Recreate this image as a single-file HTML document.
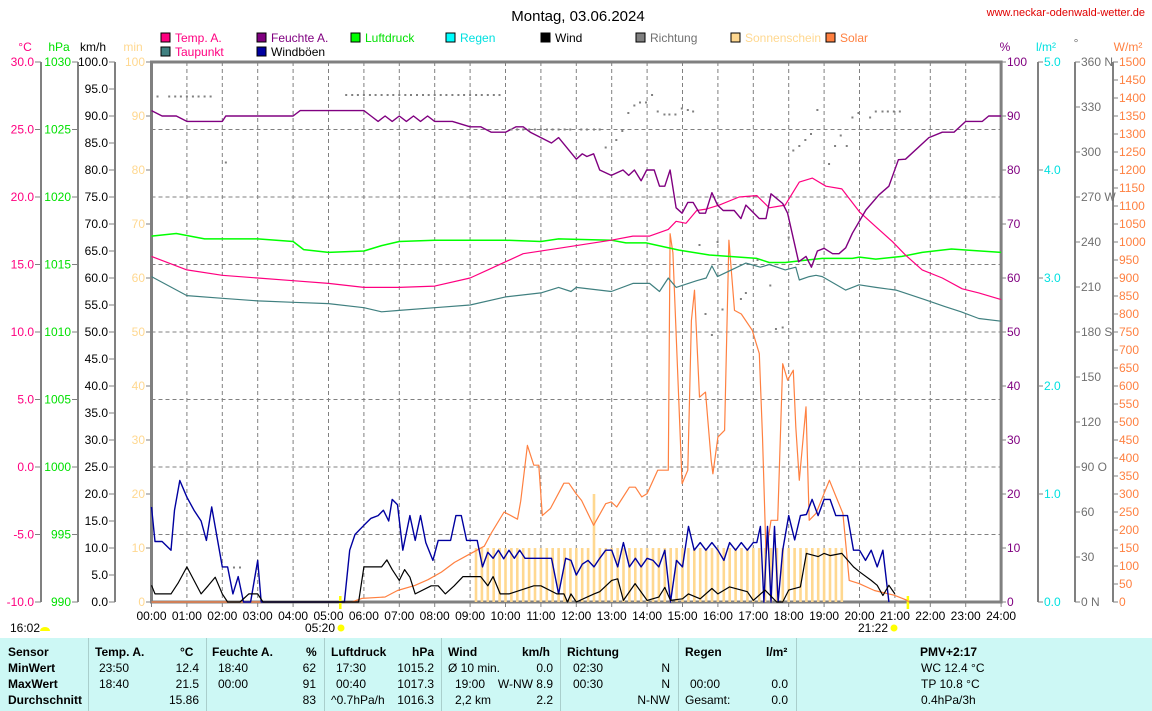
<!DOCTYPE html>
<html><head><meta charset="utf-8">
<style>
html,body{margin:0;padding:0;background:#fff;}
body{width:1152px;height:711px;overflow:hidden;position:relative;font-family:"Liberation Sans",sans-serif;}
svg text{font-family:"Liberation Sans",sans-serif;}
#tbl{position:absolute;left:0;top:638px;width:1152px;height:73px;background:#cdf8f5;font-size:12px;color:#000;}
#tbl div{position:absolute;white-space:nowrap;}
.sep{top:0;width:1px;height:73px;background:#a9cfcc;}
.b{font-weight:bold;}
</style></head>
<body>
<svg id="chart" width="1152" height="638" viewBox="0 0 1152 638" style="position:absolute;left:0;top:0">
<text x="578" y="21" font-size="15" text-anchor="middle" fill="#000">Montag, 03.06.2024</text>
<text x="1145" y="16" font-size="11" text-anchor="end" fill="#e00000">www.neckar-odenwald-wetter.de</text>
<g id="legend"></g>
<g id="grid"></g>
<g id="axes"></g>
<g id="marks"></g>
</svg>
<div id="tbl">
<div class="sep" style="left:88px"></div><div class="sep" style="left:206px"></div><div class="sep" style="left:324px"></div><div class="sep" style="left:441px"></div><div class="sep" style="left:560px"></div><div class="sep" style="left:678px"></div><div class="sep" style="left:796px"></div>
<div class="b" style="left:8px;top:7px">Sensor</div>
<div class="b" style="left:8px;top:23px">MinWert</div>
<div class="b" style="left:8px;top:39px">MaxWert</div>
<div class="b" style="left:8px;top:55px">Durchschnitt</div>
<div class="b" style="left:95px;top:7px">Temp. A.</div><div class="b" style="left:180px;top:7px">°C</div>
<div style="left:99px;top:23px">23:50</div><div style="right:953px;top:23px">12.4</div>
<div style="left:99px;top:39px">18:40</div><div style="right:953px;top:39px">21.5</div>
<div style="right:953px;top:55px">15.86</div>
<div class="b" style="left:212px;top:7px">Feuchte A.</div><div class="b" style="left:306px;top:7px">%</div>
<div style="left:218px;top:23px">18:40</div><div style="right:836px;top:23px">62</div>
<div style="left:218px;top:39px">00:00</div><div style="right:836px;top:39px">91</div>
<div style="right:836px;top:55px">83</div>
<div class="b" style="left:331px;top:7px">Luftdruck</div><div class="b" style="left:412px;top:7px">hPa</div>
<div style="left:336px;top:23px">17:30</div><div style="right:718px;top:23px">1015.2</div>
<div style="left:336px;top:39px">00:40</div><div style="right:718px;top:39px">1017.3</div>
<div style="left:331px;top:55px">^0.7hPa/h</div><div style="right:718px;top:55px">1016.3</div>
<div class="b" style="left:448px;top:7px">Wind</div><div class="b" style="left:522px;top:7px">km/h</div>
<div style="left:448px;top:23px">Ø 10 min.</div><div style="right:599px;top:23px">0.0</div>
<div style="left:455px;top:39px">19:00</div><div style="right:599px;top:39px">W-NW 8.9</div>
<div style="left:455px;top:55px">2,2 km</div><div style="right:599px;top:55px">2.2</div>
<div class="b" style="left:567px;top:7px">Richtung</div>
<div style="left:573px;top:23px">02:30</div><div style="right:482px;top:23px">N</div>
<div style="left:573px;top:39px">00:30</div><div style="right:482px;top:39px">N</div>
<div style="right:482px;top:55px">N-NW</div>
<div class="b" style="left:685px;top:7px">Regen</div><div class="b" style="left:766px;top:7px">l/m²</div>
<div style="left:690px;top:39px">00:00</div><div style="right:364px;top:39px">0.0</div>
<div style="left:685px;top:55px">Gesamt:</div><div style="right:364px;top:55px">0.0</div>
<div class="b" style="left:920px;top:7px">PMV+2:17</div>
<div style="left:921px;top:23px">WC 12.4 °C</div>
<div style="left:921px;top:39px">TP 10.8 °C</div>
<div style="left:921px;top:55px">0.4hPa/3h</div>
</div>
<script>
// ---- data ----
const hourLabels = ["00:00","01:00","02:00","03:00","04:00","05:00","06:00","07:00","08:00","09:00","10:00","11:00","12:00","13:00","14:00","15:00","16:00","17:00","18:00","19:00","20:00","21:00","22:00","23:00","24:00"];
const tempT = [0,1,2,3,4,5,6,7,8,9,9.5,10,10.5,11.5,12.99,13.6,14.07,14.6,14.82,15.1,15.4,15.67,16.04,16.6,17.1,17.45,17.9,18.3,18.67,19.05,19.5,20.0,20.46,20.93,21.3,21.77,22.34,22.9,23.37,24];
const tempV = [15.6,14.6,14.2,14.0,13.8,13.6,13.3,13.3,13.4,14.0,14.6,15.2,15.8,16.2,16.8,17.1,17.1,17.6,18.2,18.05,19.0,19.1,19.4,20.0,20.1,19.2,19.4,21.1,21.4,20.8,20.6,18.9,17.8,16.7,15.7,14.6,14.0,13.2,12.9,12.4];
const dewT = [0,0.5,1,2,3,4,5,6,6.5,7,8,9,10,11,11.5,11.85,12.0,12.99,13.6,14.07,14.35,14.6,14.82,15.4,15.67,15.83,15.99,16.3,16.79,17.2,17.45,17.9,18.2,18.3,18.58,18.77,18.95,19.61,19.99,20.46,21.03,21.5,21.84,22.4,22.87,23.37,24];
const dewV = [14.1,13.4,12.7,12.5,12.3,12.2,12.1,11.8,11.5,11.6,11.8,12.0,12.6,12.9,13.3,13.0,13.3,13.0,13.6,13.6,13.0,14.0,13.3,13.8,14.0,14.9,14.1,14.5,15.1,14.8,15.0,14.6,14.8,13.85,14.1,14.2,14.1,13.1,13.5,13.3,13.1,12.7,12.4,11.9,11.5,11.0,10.8];
const humT = [0,0.3,0.7,1,2,2.1,4,4.2,6,6.2,6.4,6.6,6.8,7,7.2,7.4,7.6,7.8,8,8.2,8.5,9,9.3,9.6,10,10.3,10.5,10.7,11,11.3,11.5,12.0,12.17,12.3,12.49,12.66,12.99,13.32,13.48,13.64,13.83,13.99,14.2,14.35,14.5,14.65,14.82,14.99,15.15,15.3,15.48,15.65,15.83,15.99,16.15,16.46,16.65,16.79,17.17,17.36,17.5,17.83,17.97,18.28,18.49,18.64,18.81,19.0,19.24,19.42,19.61,19.8,20.18,20.55,20.83,21.1,21.3,21.96,22.34,22.67,23.0,23.47,23.65,24];
const humV = [91,90,90,89,89,90,90,91,91,90,89,90,89,90,89,90,89,90,89,89,89,88,88,87,87,88,88,87,86,85,86,82,83,82.5,83,80,79,80,79,80,78,80,80,77,77,80,73,72,74,74,72,72,75.8,73.5,72.5,72.5,71,73.5,71,71,75.6,73.8,72,63,64,62,65,65.5,64.5,64.5,65.6,68.3,72.6,75.4,77,81.9,82,86,87,87,89,89,90,90];
const presT = [0,0.7,1.5,3,4,4.3,5,6,6.5,7,8,10,11,11.5,12.99,13.4,13.97,14.9,15.76,17.1,17.45,17.9,18.4,18.95,19.8,20.0,20.46,21.2,21.77,22.6,23.1,24];
const presV = [1017.1,1017.3,1016.9,1016.9,1016.7,1016.1,1015.9,1016.0,1016.4,1016.7,1016.8,1016.8,1016.7,1016.9,1016.8,1016.6,1016.6,1016.07,1015.7,1015.45,1015.15,1015.15,1015.3,1015.45,1015.45,1015.55,1015.4,1015.6,1015.9,1016.15,1016.05,1015.9];
const gustT = [0,0.1,0.3,0.55,0.65,0.8,1.0,1.2,1.4,1.55,1.7,2.0,2.15,2.3,2.45,2.6,2.8,3.0,3.1,5.45,5.6,5.75,6.0,6.2,6.4,6.55,6.7,6.8,6.95,7.1,7.3,7.45,7.6,7.75,7.95,8.1,8.3,8.45,8.6,8.75,8.9,9.0,9.2,9.35,9.5,9.65,9.8,9.95,10.1,10.25,10.4,10.55,10.7,10.85,11.0,11.3,11.5,11.7,11.85,12.0,12.17,12.33,12.5,12.66,12.83,13.0,13.17,13.33,13.5,13.67,13.83,14.0,14.17,14.33,14.5,14.66,14.83,15.0,15.17,15.33,15.5,15.66,15.83,16.0,16.17,16.33,16.5,16.66,16.83,17.0,17.1,17.2,17.3,17.4,17.5,17.6,17.7,17.83,18.0,18.17,18.33,18.5,18.66,18.83,19.0,19.17,19.33,19.5,19.66,19.83,20.0,20.17,20.33,20.5,20.66,20.83,21.0];
const gustV = [17.6,11.2,11.2,9.6,17,22.5,19.4,17,15,11.4,17.6,6.5,6.5,1.5,4.7,0,0,7.7,0,0,9.6,12.5,14.2,15.5,16,17,15,19,18,9.6,16,11.4,16,11,7.7,11.4,11.4,11.4,16,16,11.4,11.4,11.4,6.5,9.2,8.1,9.6,8,9.6,8.1,9.6,8.1,8.1,8.1,8.1,8.1,1.5,8.1,7.7,5,7,7.7,6.5,8.1,9.6,9.6,6.5,11,6.5,8.1,6.5,8.1,7.7,6.5,9.6,0,7.7,6.5,14,9.6,11,9.6,11,9.6,7.7,11,9.6,11,9.6,11,11,14,0,14,0,14,0,9.6,16,11.5,16,16.2,19,16,19,19,16,16,16,9.6,9.6,7.7,9.6,6.5,9.6,0];
const windT = [0,0.1,0.55,0.75,1.0,1.2,1.4,1.6,1.8,2.0,2.15,2.5,2.75,3.0,3.15,5.65,5.85,6.0,6.2,6.5,6.65,6.8,7.0,7.15,7.3,7.45,7.9,8.1,8.3,8.55,8.8,9.1,9.3,9.5,9.65,9.85,10.1,10.8,11.0,11.45,11.65,11.75,11.85,12.0,12.5,12.66,13.0,13.17,13.33,13.66,14.0,14.33,14.5,14.66,15.0,15.17,15.5,15.83,16.0,16.33,16.66,16.83,17.0,17.33,17.66,17.83,18.0,18.33,18.5,18.83,19.0,19.17,19.5,19.83,20.0,20.33,20.5,20.66,20.83,21.0];
const windV = [3.1,1.5,1.5,3.5,6.5,4,1.5,3,4.6,1.5,0,0,1.5,1.5,0,0,0,6.5,6.5,6.5,7.8,6,4,6,4.6,1.5,3,3,1.5,3,4.7,4.7,4.7,3,4.7,1.5,1.5,3,3,1.5,1.5,0,1.5,0,1.5,1.9,4,4.3,0.3,3.4,0.3,0.9,2.7,0.3,0.6,1.5,0.6,2.5,1.5,2.8,2.2,1.9,0.3,2.2,0,0,2.2,2.8,9,8.4,9,8.6,9,6.5,5.6,4,3.1,1.2,3.1,1.5,0];
const solarT = [0,5.66,5.94,6.6,6.95,7.44,7.81,8.19,8.56,8.93,9.4,9.59,9.96,10.34,10.43,10.62,10.8,10.94,11.04,11.27,11.65,11.79,12.0,12.15,12.49,12.83,12.99,13.14,13.5,13.67,13.85,14.0,14.3,14.5,14.6,14.65,14.73,14.99,15.15,15.25,15.34,15.48,15.65,15.81,15.86,16.0,16.19,16.31,16.47,16.66,16.97,17.17,17.26,17.36,17.5,17.69,17.83,17.97,18.13,18.2,18.3,18.49,18.58,18.77,19.15,19.34,19.53,19.71,19.99,20.42,20.98,21.31,21.4];
const solarV = [0,0,10,14,32,46,62,83,110,130,155,190,250,230,280,435,380,380,240,260,330,330,300,282,213,273,278,264,319,319,292,301,366,366,366,1023,970,329,366,782,866,569,583,393,356,458,477,1005,810,800,755,690,458,134,227,227,662,616,644,486,338,542,227,246,338,292,246,60,51,32,19,6,0];
const sunMin = [0,0,0,0,0,0,0,0,0,0,0,0,0,0,0,0,0,0,0,0,0,0,0,0,0,0,0,0,0,0,0,0,0,0,0,0,0,0,0,0,0,0,0,0,0,0,0,0,0,0,0,0,0,0,0,10,10,10,10,10,10,10,10,10,10,10,10,10,10,10,10,10,10,10,10,20,10,10,10,10,10,10,10,10,10,10,10,10,10,10,10,10,10,10,10,10,10,10,10,10,10,10,10,10,10,10,10,10,10,10,10,10,10,10,10,10,10,10,0,0,0,0,0,0,0,0,0,0,0,0,0,0,0,0,0,0,0,0,0,0,0,0,0,0];
const dirT = [0,0.17,0.5,0.67,0.83,1.0,1.17,1.33,1.5,1.67,2.1,2.33,2.5,5.5,5.67,5.83,6.0,6.17,6.33,6.5,6.67,6.83,7.0,7.17,7.33,7.5,7.67,7.83,8.0,8.17,8.33,8.5,8.67,8.83,9.0,9.17,9.33,9.5,9.67,9.83,10.17,10.33,10.5,10.67,10.83,11.0,11.17,11.33,11.5,11.67,11.83,12.14,12.3,12.5,12.66,12.83,13.13,13.3,13.47,13.64,13.8,13.97,14.14,14.3,14.49,14.63,14.8,14.98,15.15,15.3,15.48,15.65,15.83,15.99,16.13,16.65,16.79,17.12,17.48,17.64,17.83,18.0,18.13,18.3,18.47,18.63,18.81,19.14,19.31,19.47,19.64,19.8,19.97,20.3,20.46,20.65,20.8,20.97,21.14];
const dirV = [337,337,337,337,337,337,337,337,337,337,293,23,23,338,338,338,338,338,338,338,338,338,338,338,338,338,338,338,338,338,338,338,338,338,338,338,338,338,338,338,315,315,315,315,315,315,315,315,315,315,315,315,315,315,315,303,308,314,326,331,333,333,338,327,325,325,325,329,328,327,238,192,178,240,195,202,206,228,211,182,183,243,301,304,308,312,328,292,304,311,304,323,326,323,327,327,327,327,327];
// ---- scales ----
const X0=151.5, PX=35.4, TOP=62, BOT=602;
function xh(h){return X0+h*PX;}
function yK(v){return BOT-v*5.4;}
function yC(t){return BOT-(t+10)*13.5;}
function yP(p){return BOT-(p-990)*13.5;}
function yD(d){return BOT-d*1.5;}
function yS(w){return BOT-w*0.36;}
const NS="http://www.w3.org/2000/svg";
function mk(tag,attrs,parent){const e=document.createElementNS(NS,tag);for(const k in attrs)e.setAttribute(k,attrs[k]);parent.appendChild(e);return e;}
const grid=document.getElementById('grid'),axes=document.getElementById('axes'),marks=document.getElementById('marks'),legend=document.getElementById('legend');
// grid
for(let i=1;i<24;i++){const l=mk('line',{x1:xh(i),x2:xh(i),y1:TOP,y2:BOT,stroke:'#808080','stroke-dasharray':'4,3','stroke-width':1},grid);

}
for(let i=1;i<8;i++){const y=TOP+i*67.5;const l=mk('line',{x1:X0,x2:xh(24),y1:y,y2:y,stroke:'#808080','stroke-dasharray':'4,3','stroke-width':1},grid);

}
function txt(s,x,y,fill,anchor,parent,name,size){const t=mk('text',{x:x,y:y,fill:fill,'font-size':size||12,'text-anchor':anchor||'start'},parent);t.textContent=s;

return t;}
function vline(x,col,name){const l=mk('line',{x1:x,x2:x,y1:TOP,y2:BOT,stroke:col,'stroke-width':2},axes);

}
function tick(x1,x2,y){mk('line',{x1:x1,x2:x2,y1:y,y2:y,stroke:'#808080','stroke-width':1},axes);}
// left axes
vline(41,'#808080','celsius-axis');vline(78,'#808080','hpa-axis');vline(115,'#808080','kmh-axis');
const cLabels=["30.0","25.0","20.0","15.0","10.0","5.0","0.0","-5.0","-10.0"];
const pLabels=["1030","1025","1020","1015","1010","1005","1000","995","990"];
for(let i=0;i<9;i++){const y=TOP+i*67.5;tick(35,41,y);tick(72,78,y);
txt(cLabels[i],34,y+4,'#ff0080','end',axes,'celsius-tick-label');txt(pLabels[i],71,y+4,'#00e000','end',axes,'hpa-tick-label');}
for(let i=0;i<=20;i++){const v=100-i*5;const y=yK(v);tick(109,115,y);txt(v.toFixed(1),108,y+4,'#000','end',axes,'kmh-tick-label');}
for(let i=0;i<=10;i++){const v=100-i*10;const y=yK(v);tick(146,151,y);txt(String(v),145,y+4,'#ffd890','end',axes,'min-tick-label');}
txt('°C',25,51,'#ff0080','middle',axes,'celsius-unit');txt('hPa',59,51,'#00e000','middle',axes,'hpa-unit');txt('km/h',93,51,'#000','middle',axes,'kmh-unit');txt('min',133,51,'#ffd890','middle',axes,'min-unit');
// right axes
vline(1038,'#808080','rain-axis');vline(1075,'#808080','direction-axis');vline(1113,'#808080','solar-axis');
for(let i=0;i<=10;i++){const v=100-i*10;const y=yK(v);tick(1001,1006,y);txt(String(v),1007,y+4,'#800080','start',axes,'humidity-tick-label');}
for(let i=0;i<=5;i++){const v=5-i;const y=BOT-v*108;tick(1038,1043,y);txt(v.toFixed(1),1044,y+4,'#00e0e0','start',axes,'rain-tick-label');}
const dirLabels=["360 N","330","300","270 W","240","210","180 S","150","120","90  O","60","30","0   N"];
for(let i=0;i<=12;i++){const y=TOP+i*45;tick(1075,1080,y);txt(dirLabels[i],1081,y+4,'#707070','start',axes,'direction-tick-label');}
for(let i=0;i<=30;i++){const v=1500-i*50;const y=yS(v);tick(1113,1118,y);txt(String(v),1119,y+4,'#ff8040','start',axes,'solar-tick-label');}
txt('%',1005,51,'#800080','middle',axes,'humidity-unit');txt('l/m²',1046,51,'#00e0e0','middle',axes,'rain-unit');txt('°',1076,47,'#707070','middle',axes,'direction-unit');txt('W/m²',1128,51,'#ff8040','middle',axes,'solar-unit');
// x labels
for(let i=0;i<hourLabels.length;i++){tick(xh(i),xh(i),BOT);mk('line',{x1:xh(i),x2:xh(i),y1:BOT,y2:BOT+5,stroke:'#808080'},axes);txt(hourLabels[i],xh(i),620,'#000','middle',axes,'x-tick-label');}
// sun bars
sunMin.forEach((v,i)=>{if(v<=0)return;const h=i/6;const r=mk('rect',{x:xh(h)-1.3,y:yK(v),width:2.6,height:BOT-yK(v),fill:'#ffd890'},marks);

});
function line(T,V,fy,col,name,w){const d=T.map((t,i)=>(i?'L':'M')+xh(t).toFixed(1)+','+fy(V[i]).toFixed(1)).join('');const p=mk('path',{d:d,fill:'none',stroke:col,'stroke-width':w||1.2,'stroke-linejoin':'round'},marks);

}
line(solarT,solarV,yS,'#ff8040','solar-line');
line(presT,presV,yP,'#00ff00','pressure-line',1.5);
line(dewT,dewV,yC,'#408080','dewpoint-line');
line(tempT,tempV,yC,'#ff0080','temperature-line');
line(humT,humV,yK,'#800080','humidity-line',1.4);
line(gustT,gustV,yK,'#0000a0','gust-line',1.4);
line(windT,windV,yK,'#000','wind-line');
dirT.forEach((t,i)=>{const r=mk('rect',{x:xh(t)-1,y:yD(dirV[i])-1,width:2,height:2,fill:'#808080'},marks);

});
// frame
const f=mk('path',{d:`M${X0},${TOP}V${BOT}H${xh(24)}V${TOP}Z`,fill:'none',stroke:'#808080','stroke-width':3},axes);


// sunrise/sunset
[[5.333,'05:20',335],[21.367,'21:22',888]].forEach(s=>{const l=mk('line',{x1:xh(s[0]),x2:xh(s[0]),y1:596,y2:609,stroke:'#ffff00','stroke-width':2.5},axes);


txt(s[1],s[2],632,'#000','end',axes,'sun-time-label');
mk('circle',{cx:s[2]+6,cy:628,r:3.5,fill:'#ffff00'},axes);});
txt('16:02',10,632,'#000','start',axes,'sunshine-duration-label');
mk('path',{d:'M40,631 a5,4 0 0 1 10,0 z',fill:'#ffff00'},axes);
// legend
const legItems=[['Temp. A.','#ff0080','#ff0080',161,37],['Feuchte A.','#800080','#800080',257,37],['Luftdruck','#00ff00','#00e000',351,37],['Regen','#00ffff','#00e0e0',446,37],['Wind','#000','#000',541,37],['Richtung','#808080','#707070',636,37],['Sonnenschein','#ffd890','#ffd890',731,37],['Solar','#ff8040','#ff8040',826,37],['Taupunkt','#408080','#ff0080',161,51],['Windböen','#0000a0','#000',257,51]];
legItems.forEach(it=>{const g=mk('g',{},legend);


mk('rect',{x:it[3],y:it[4]-4,width:9,height:9,fill:it[1],stroke:'#000','stroke-width':1},g);
const t=mk('text',{x:it[3]+14,y:it[4]+5,fill:it[2],'font-size':12},g);t.textContent=it[0];});
</script>
</body></html>
